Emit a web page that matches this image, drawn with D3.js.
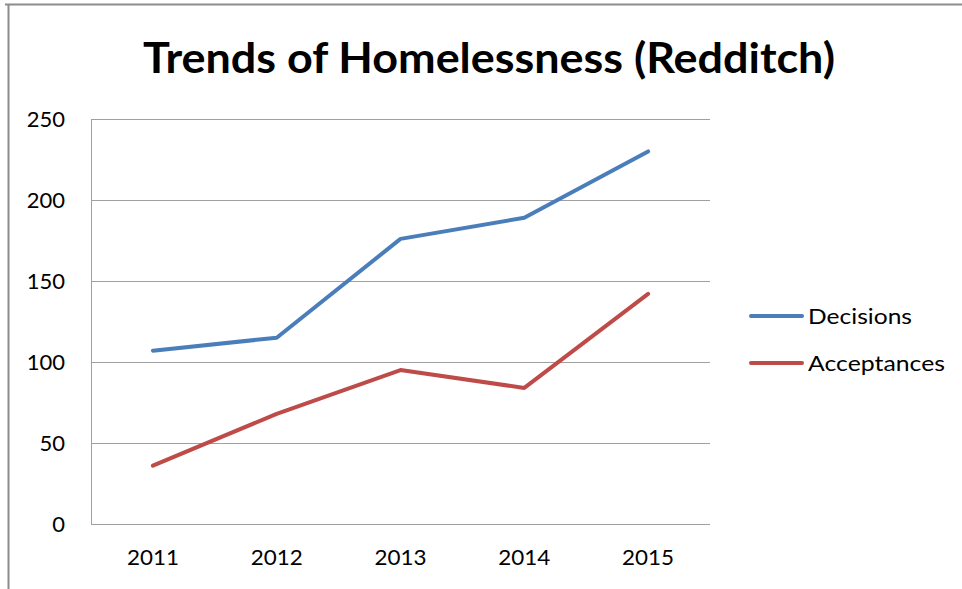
<!DOCTYPE html>
<html><head><meta charset="utf-8">
<script src="https://cdn.jsdelivr.net/npm/d3@7"></script>
<style>html,body{margin:0;padding:0;background:#fff;}svg{display:block;}</style>
</head><body>
<svg id="c" width="962" height="589"></svg>
<script>
const categories = ["2011","2012","2013","2014","2015"];
const decisions = [107, 115, 176, 189, 230];
const acceptances = [36, 68, 95, 84, 142];
const yTicks = [0, 50, 100, 150, 200, 250];
const seriesNames = ["Decisions", "Acceptances"];
const seriesColors = ["#4A7EBB", "#BE4B48"];

const svg = d3.select("#c");
const font = "Lato, 'Open Sans', sans-serif";

// frame
svg.append("line").attr("x1",5).attr("x2",962).attr("y1",4.5).attr("y2",4.5).attr("stroke","#8c8c8c").attr("stroke-width",2);
svg.append("line").attr("x1",8.5).attr("x2",8.5).attr("y1",4).attr("y2",589).attr("stroke","#8c8c8c").attr("stroke-width",2);

const pLeft = 91, pRight = 710, pTop = 119, pBottom = 524;
const x = d3.scaleBand().domain(categories).range([pLeft, pRight]);
const y = d3.scaleLinear().domain([0, 250]).range([pBottom, pTop]);

// gridlines
svg.append("g").selectAll("line").data(yTicks).join("line")
  .attr("x1", pLeft).attr("x2", pRight)
  .attr("y1", d => Math.round(y(d)) + 0.5).attr("y2", d => Math.round(y(d)) + 0.5)
  .attr("stroke", "#a0a0a0").attr("stroke-width", 1);
// left axis line
svg.append("line").attr("x1", pLeft+0.5).attr("x2", pLeft+0.5).attr("y1", pTop).attr("y2", pBottom+1).attr("stroke","#a0a0a0");

// y labels
svg.append("g").selectAll("text").data(yTicks).join("text")
  .attr("x", 65).attr("y", d => y(d)).attr("dy", "0.35em")
  .attr("text-anchor", "end").attr("font-family", font).attr("font-size", 22).attr("fill", "#000")
  .text(d => d);

// x labels
svg.append("g").selectAll("text").data(categories).join("text")
  .attr("x", d => x(d) + x.bandwidth()/2).attr("y", 557).attr("dy", "0.35em")
  .attr("text-anchor", "middle").attr("font-family", font).attr("font-size", 22).attr("fill", "#000")
  .attr("textLength", 52).attr("lengthAdjust", "spacingAndGlyphs")
  .text(d => d);

const line = d3.line().x((d,i) => x(categories[i]) + x.bandwidth()/2).y(d => y(d));
[decisions, acceptances].forEach((s, k) => {
  svg.append("path").attr("d", line(s)).attr("fill","none")
    .attr("stroke", seriesColors[k]).attr("stroke-width", 4).attr("stroke-linecap","round").attr("stroke-linejoin","round");
});

// title
svg.append("text").attr("x", 489).attr("y", 58).attr("dy","0.35em").attr("text-anchor","middle")
  .attr("font-family", font).attr("font-weight", "bold").attr("font-size", 42).attr("fill","#000")
  .attr("textLength", 692).attr("lengthAdjust", "spacingAndGlyphs")
  .text("Trends of Homelessness (Redditch)");

// legend
const legendWidths = [104, 137];
const lg = svg.append("g");
seriesNames.forEach((n, k) => {
  const ly = 316 + k*47;
  lg.append("line").attr("x1", 751).attr("x2", 802).attr("y1", ly).attr("y2", ly)
    .attr("stroke", seriesColors[k]).attr("stroke-width", 4).attr("stroke-linecap","round");
  lg.append("text").attr("x", 808).attr("y", ly).attr("dy","0.35em")
    .attr("font-family", font).attr("font-size", 22).attr("fill","#000")
    .attr("textLength", legendWidths[k]).attr("lengthAdjust", "spacingAndGlyphs").text(n);
});
</script>
</body></html>
